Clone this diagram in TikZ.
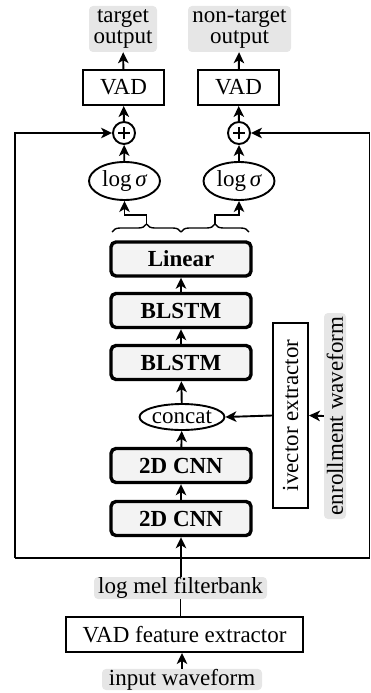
\documentclass[tikz,border=0pt]{standalone}
\usepackage{fontspec}
\setmainfont{Liberation Serif}
\usetikzlibrary{arrows.meta,shapes.geometric,decorations.pathreplacing}
\definecolor{lblgray}{HTML}{E6E6E6}
\definecolor{boxgray}{HTML}{F3F3F3}
\tikzset{
  thin line/.style={line width=1.9pt},
  arr/.style={thin line,-{Stealth[length=11pt,width=10.5pt,inset=3pt]}},
  lbl/.style={fill=lblgray,rounded corners=4pt,inner sep=0pt,align=center},
  plainbox/.style={draw,thin line,inner sep=0pt,align=center},
  layer/.style={draw,line width=3.4pt,rounded corners=5pt,fill=boxgray,
    inner sep=0pt,minimum width=140pt,minimum height=34pt,font=\fontsize{23}{20}\selectfont\bfseries},
  oval/.style={draw,thin line,ellipse,inner sep=0pt},
  sumnode/.style={draw,thin line,circle,minimum size=22pt,inner sep=0pt},
  plusbar/.style={line width=1.1pt},
}
\begin{document}
\begin{tikzpicture}[x=1pt,y=-1pt,font=\fontsize{23}{20.5}\selectfont]
\useasboundingbox (0,0) rectangle (371,693);

% outputs
\node[lbl,minimum width=68pt,minimum height=46pt] (tout) at (123,29) {target\\output};
\node[lbl,minimum width=103pt,minimum height=46pt] (ntout) at (239.5,29) {non-target\\output};
\node[plainbox,minimum width=81pt,minimum height=35pt] (vad1) at (123.5,87.5) {VAD};
\node[plainbox,minimum width=81pt,minimum height=35pt] (vad2) at (238.5,87.5) {VAD};
\node[sumnode] (p1) at (124,133) {};
\node[sumnode] (p2) at (239,133) {};
\draw[plusbar] (p1.center) ++(-6,0) -- ++(12,0) (p1.center) ++(0,-6) -- ++(0,12);
\draw[plusbar] (p2.center) ++(-6,0) -- ++(12,0) (p2.center) ++(0,-6) -- ++(0,12);
\node[oval,minimum width=71pt,minimum height=38pt] (ls1) at (124.5,181) {log\,{\itshape σ}};
\node[oval,minimum width=71pt,minimum height=38pt] (ls2) at (239,181) {log\,{\itshape σ}};

% braces splitting the linear output
\coordinate (b1l) at (112,232);
\coordinate (b1r) at (181,232);
\coordinate (b2r) at (249,232);
\draw[line width=1.4pt,decorate,decoration={brace,amplitude=8pt}] (b1l) -- (b1r);
\draw[line width=1.4pt,decorate,decoration={brace,amplitude=8pt}] (b1r) -- (b2r);
\coordinate (t1) at (146.5,224);
\coordinate (t2) at (215,224);
\draw[arr] (t1) -- (146.5,215) -| (ls1.south);
\draw[arr] (t2) -- (215,215) -| (ls2.south);

% network stack
\node[layer] (lin) at (181,259) {Linear};
\node[layer] (bl1) at (181,310.5) {BLSTM};
\node[layer] (bl2) at (181,362.5) {BLSTM};
\node[oval,minimum width=80pt,minimum height=26pt] (cat) at (182,417) {concat};
\node[layer] (cnn1) at (181,465.5) {2D CNN};
\node[layer] (cnn2) at (181,518.5) {2D CNN};

% speaker branch
\node[plainbox,minimum width=185pt,minimum height=35pt,rotate=90] (ivec) at (290.5,415.5) {ivector extractor};
\node[lbl,minimum width=206pt,minimum height=22pt,rotate=90] (enr) at (335,416) {enrollment waveform};

% front end
\node[lbl,minimum width=173pt,minimum height=22pt] (lmf) at (180.5,588) {log mel filterbank};
\node[plainbox,minimum width=237pt,minimum height=35pt] (vfe) at (184.5,634.5) {VAD feature extractor};
\node[lbl,minimum width=160pt,minimum height=21pt] (inw) at (182,679.5) {input waveform};

% connectors
\draw[arr] (vad1) -- (tout);
\draw[arr] (vad2) -- (ntout);
\draw[arr] (p1) -- (vad1);
\draw[arr] (p2) -- (vad2);
\draw[arr] (ls1) -- (p1);
\draw[arr] (ls2) -- (p2);
\draw[arr] (bl1) -- (lin);
\draw[arr] (bl2) -- (bl1);
\draw[arr] (cat) -- (bl2);
\draw[arr] (cnn1) -- (cat);
\draw[arr] (cnn2) -- (cnn1);
\draw[arr] (ivec.north) -- (cat.east);
\draw[arr] (enr.north) -- (ivec.south);
\draw[arr] (lmf.north -| cnn2.south) -- (cnn2.south);
\draw[thin line] (vfe.north -| lmf.south) -- (lmf.south);
\draw[arr] (inw.north) -- (inw.north |- vfe.south);

% feature bypass into the sums
\coordinate (fl) at (15,133);
\coordinate (fbl) at (15,558);
\coordinate (fbr) at (369.5,558);
\coordinate (fr) at (369.5,133);
\draw[arr] (fbl) -- (fl) -- (p1.west);
\draw[arr] (fbl) -- (fbr) -- (fr) -- (p2.east);
\end{tikzpicture}
\end{document}
